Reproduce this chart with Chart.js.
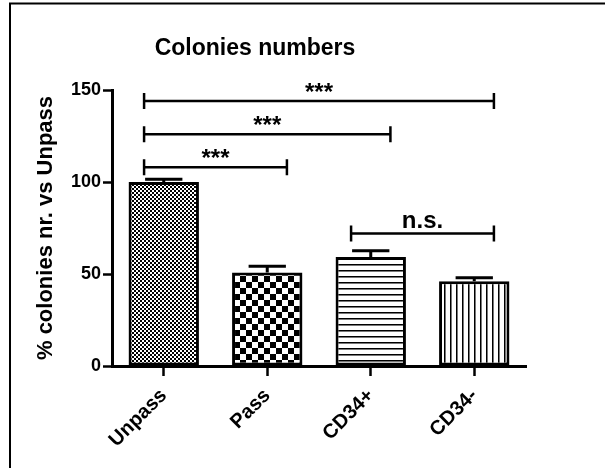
<!DOCTYPE html>
<html>
<head>
<meta charset="utf-8">
<script src="https://cdn.jsdelivr.net/npm/chart.js@4/dist/chart.umd.min.js"></script>
<style>
  html, body { margin: 0; padding: 0; background: #fff; }
</style>
</head>
<body>
<canvas id="chart-colonies" width="605" height="468"></canvas>
<script>
const groups = ['Unpass', 'Pass', 'CD34+', 'CD34-'];
const colonies = [100, 50.8, 59.2, 46.1];
const sem = [1.5, 3.4, 3.5, 1.8];
const yTicks = [0, 50, 100, 150];

// significance brackets: from group, to group, height, label
const bracketFrom = [0, 0, 0, 2];
const bracketTo = [1, 2, 3, 3];
const bracketLevel = [108, 126, 144, 72];
const bracketLabel = ['***', '***', '***', 'n.s.'];

const family = '"Liberation Sans", Arial, sans-serif';

// small repeating tiles for the bar fills
function pattern(size, draw) {
  const c = document.createElement('canvas');
  c.width = size;
  c.height = size;
  const g = c.getContext('2d');
  g.fillStyle = '#fff';
  g.fillRect(0, 0, size, size);
  g.fillStyle = '#000';
  draw(g);
  return g.createPattern(c, 'repeat');
}

const fills = [
  pattern(4, g => { g.fillRect(0, 0, 2, 2); g.fillRect(2, 2, 2, 2); }),
  pattern(12, g => { g.fillRect(0, 0, 6, 6); g.fillRect(6, 6, 6, 6); }),
  pattern(6, g => { g.fillRect(0, 0, 6, 1); g.fillStyle = '#777'; g.fillRect(0, 1, 6, 1); }),
  pattern(6, g => { g.fillRect(0, 0, 1, 6); g.fillStyle = '#777'; g.fillRect(1, 0, 1, 6); })
];

// error bars (upper side) and significance brackets
const annotations = {
  id: 'annotations',
  afterDatasetsDraw(chart) {
    const { ctx, scales: { x, y } } = chart;
    const meta = chart.getDatasetMeta(0);
    ctx.save();
    ctx.strokeStyle = '#000';
    ctx.fillStyle = '#000';

    ctx.lineWidth = 3;
    meta.data.forEach((bar, i) => {
      const top = y.getPixelForValue(colonies[i] + sem[i]);
      const half = bar.width * 0.265;
      ctx.beginPath();
      ctx.moveTo(bar.x, bar.y);
      ctx.lineTo(bar.x, top);
      ctx.moveTo(bar.x - half, top);
      ctx.lineTo(bar.x + half, top);
      ctx.stroke();
    });

    const step = x.getPixelForValue(1) - x.getPixelForValue(0);
    ctx.lineWidth = 2.5;
    ctx.font = 'bold 24px ' + family;
    ctx.textAlign = 'center';
    ctx.textBaseline = 'alphabetic';
    bracketLabel.forEach((label, i) => {
      const x0 = x.getPixelForValue(bracketFrom[i]) - step * 0.19;
      const x1 = x.getPixelForValue(bracketTo[i]) + step * 0.19;
      const yy = y.getPixelForValue(bracketLevel[i]);
      ctx.beginPath();
      ctx.moveTo(x0, yy);
      ctx.lineTo(x1, yy);
      ctx.moveTo(x0, yy - 8);
      ctx.lineTo(x0, yy + 8);
      ctx.moveTo(x1, yy - 8);
      ctx.lineTo(x1, yy + 8);
      ctx.stroke();
      ctx.fillText(label, (x0 + x1) / 2, yy - (label === 'n.s.' ? 6 : 1));
    });
    ctx.restore();
  }
};

// outer frame and the title
const frame = {
  id: 'frame',
  afterDraw(chart) {
    const { ctx } = chart;
    ctx.save();
    ctx.strokeStyle = '#000';
    ctx.lineWidth = 2;
    ctx.beginPath();
    ctx.moveTo(10, chart.height);
    ctx.lineTo(10, 3.5);
    ctx.lineTo(chart.width, 3.5);
    ctx.stroke();
    ctx.fillStyle = '#000';
    ctx.font = 'bold 23px ' + family;
    ctx.textAlign = 'center';
    ctx.textBaseline = 'alphabetic';
    ctx.fillText('Colonies numbers', 255, 55);
    ctx.restore();
  }
};

new Chart(document.getElementById('chart-colonies'), {
  type: 'bar',
  data: {
    labels: groups,
    datasets: [{
      data: colonies,
      backgroundColor: fills,
      borderColor: '#000',
      borderWidth: 3,
      borderSkipped: false,
      categoryPercentage: 1,
      barPercentage: 0.68
    }]
  },
  options: {
    responsive: false,
    animation: false,
    layout: { padding: { left: 0, top: 90, right: 79, bottom: 0 } },
    plugins: {
      legend: { display: false },
      tooltip: { enabled: false }
    },
    scales: {
      x: {
        grid: {
          display: true,
          offset: false,
          drawOnChartArea: false,
          drawTicks: true,
          tickLength: 10,
          tickWidth: 2.5,
          tickColor: '#000'
        },
        border: { display: true, color: '#000', width: 3 },
        ticks: {
          color: '#000',
          font: { family, size: 20, weight: 'bold' },
          minRotation: 45,
          maxRotation: 45,
          padding: 8
        },
        afterFit: s => { s.height = 102; }
      },
      y: {
        min: 0,
        max: 150,
        afterBuildTicks: s => { s.ticks = yTicks.map(v => ({ value: v })); },
        grid: {
          display: true,
          drawOnChartArea: false,
          drawTicks: true,
          tickLength: 9,
          tickWidth: 2.5,
          tickColor: '#000'
        },
        border: { display: true, color: '#000', width: 3 },
        ticks: {
          color: '#000',
          font: { family, size: 18, weight: 'bold' },
          padding: 2
        },
        title: {
          display: true,
          text: '% colonies nr. vs Unpass',
          color: '#000',
          font: { family, size: 22, weight: 'bold' },
          padding: { top: 33, bottom: 0 }
        },
        afterFit: s => { s.width = 112; }
      }
    }
  },
  plugins: [annotations, frame]
});
</script>
</body>
</html>
